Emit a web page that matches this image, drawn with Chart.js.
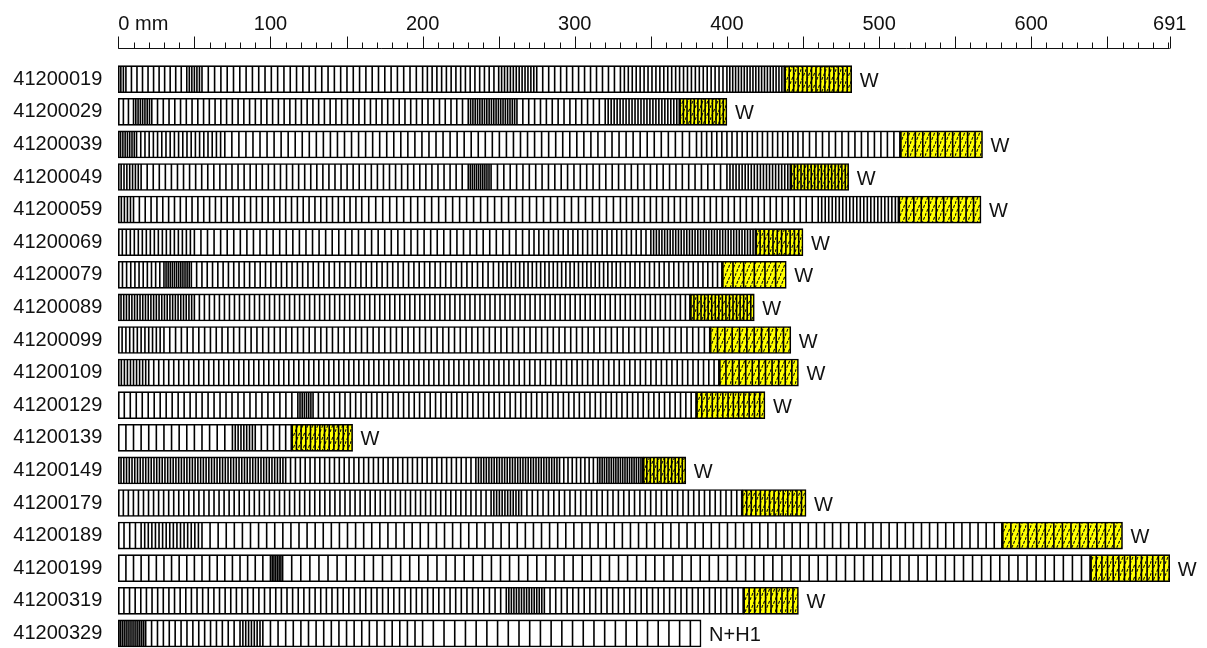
<!DOCTYPE html>
<html>
<head>
<meta charset="utf-8">
<script src="https://cdn.jsdelivr.net/npm/chart.js@4.4.1/dist/chart.umd.min.js"></script>
<style>
  body { margin: 0; background: #fff; }
</style>
</head>
<body>
<canvas id="coreChart" width="1207" height="648"></canvas>
<script>
// cores, lengths in mm
const coreIds = ['41200019', '41200029', '41200039', '41200049', '41200059', '41200069',
  '41200079', '41200089', '41200099', '41200109', '41200129', '41200139',
  '41200149', '41200179', '41200189', '41200199', '41200319', '41200329'];
const coreLengths = [482, 400, 568, 480, 567, 450, 439, 418, 442, 447, 425, 154, 373, 452, 660, 691, 447, 383];
// start of the yellow (hatched) part
const warmStart = [438, 369, 514, 442, 513, 419, 397, 376, 389, 395, 380, 114, 345, 410, 581, 639, 411, null];
const endLabels = ['W', 'W', 'W', 'W', 'W', 'W', 'W', 'W', 'W', 'W', 'W', 'W', 'W', 'W', 'W', 'W', 'W', 'N+H1'];

// layer zones per core: [zone end mm, mean layer thickness mm]
const layerZones = [
  [[5, 1.5], [45, 3.8], [55, 1.8], [200, 4.2], [250, 3.2], [275, 2.0], [330, 3.8], [400, 2.6], [438, 1.9], [482, 3.0]],
  [[10, 3.0], [22, 1.5], [230, 3.8], [262, 1.5], [320, 4.0], [369, 2.0], [400, 2.4]],
  [[12, 1.6], [70, 2.8], [380, 4.6], [450, 3.3], [514, 4.3], [568, 5.0]],
  [[15, 2.0], [230, 4.0], [245, 1.4], [400, 4.2], [442, 2.0], [480, 2.2]],
  [[10, 2.0], [160, 3.8], [330, 4.6], [460, 4.0], [513, 2.3], [567, 4.8]],
  [[50, 2.6], [270, 4.3], [350, 3.2], [419, 1.8], [450, 2.7]],
  [[30, 2.8], [48, 1.4], [250, 3.5], [330, 2.8], [397, 3.2], [439, 7]],
  [[50, 1.8], [376, 3.3], [418, 2.4]],
  [[30, 2.6], [389, 3.8], [442, 5.0]],
  [[20, 2.0], [260, 3.3], [395, 3.5], [447, 4.5]],
  [[118, 4.0], [128, 1.5], [380, 3.5], [425, 3.6]],
  [[75, 5.0], [90, 2.0], [114, 3.8], [154, 3.0]],
  [[110, 1.8], [235, 3.2], [290, 1.7], [315, 2.8], [345, 1.5], [373, 2.4]],
  [[245, 3.3], [265, 1.8], [410, 3.5], [452, 3.0]],
  [[15, 4.0], [55, 2.4], [581, 5.3], [660, 5.5]],
  [[100, 5.0], [108, 1.2], [639, 6.0], [691, 3.8]],
  [[255, 3.7], [280, 1.7], [411, 3.7], [447, 3.5]],
  [[18, 1.3], [80, 3.8], [95, 2.0], [200, 5.0], [383, 7.0]]
];

const xTicks = [0, 100, 200, 300, 400, 500, 600, 691];
const xTickLabels = ['0 mm', '100', '200', '300', '400', '500', '600', '691'];

// layer boundaries -> points
const layerPoints = [];
layerZones.forEach((zones, i) => {
  let start = 0;
  zones.forEach(([end, thick]) => {
    const n = Math.max(1, Math.round((end - start) / thick));
    for (let k = 1; k <= n; k++) {
      const x = start + (end - start) * k / n;
      if (x < coreLengths[i] - 0.5) layerPoints.push({ x: x, y: coreIds[i] });
    }
    start = end;
  });
});

// yellow hatch
function makeHatch() {
  const pc = document.createElement('canvas');
  pc.width = 5;
  pc.height = 12;
  const p = pc.getContext('2d');
  p.fillStyle = '#ffff00';
  p.fillRect(0, 0, 5, 12);
  p.strokeStyle = '#111';
  p.lineWidth = 1.1;
  p.setLineDash([3, 1.5]);
  p.beginPath();
  p.moveTo(0, 12);
  p.lineTo(5, 0);
  p.stroke();
  return p.createPattern(pc, 'repeat');
}

const FONT = "'Liberation Sans', Arial, sans-serif";

const topAxis = {
  id: 'topAxis',
  afterDraw(chart) {
    const ctx = chart.ctx;
    const x = chart.scales.x;
    const yLine = 48.5;
    ctx.save();
    ctx.strokeStyle = '#111';
    ctx.lineWidth = 1;
    ctx.beginPath();
    ctx.moveTo(x.getPixelForValue(0), yLine);
    ctx.lineTo(x.getPixelForValue(691), yLine);
    for (let v = 0; v <= 690; v += 10) {
      const px = Math.round(x.getPixelForValue(v)) + 0.5;
      const len = v % 50 === 0 ? 12 : 6;
      ctx.moveTo(px, yLine);
      ctx.lineTo(px, yLine - len);
    }
    const pEnd = Math.round(x.getPixelForValue(691)) + 0.5;
    ctx.moveTo(pEnd, yLine);
    ctx.lineTo(pEnd, yLine - 12);
    ctx.stroke();

    ctx.fillStyle = '#111';
    ctx.font = '20px ' + FONT;
    ctx.textBaseline = 'middle';
    xTicks.forEach((v, i) => {
      ctx.textAlign = i === 0 ? 'left' : 'center';
      ctx.fillText(xTickLabels[i], x.getPixelForValue(v), 24);
    });

    // end labels
    const y = chart.scales.y;
    ctx.textAlign = 'left';
    coreIds.forEach((id, i) => {
      ctx.fillText(endLabels[i], x.getPixelForValue(coreLengths[i]) + 8, y.getPixelForValue(i) + 2);
    });
    ctx.restore();
  }
};

new Chart(document.getElementById('coreChart'), {
  type: 'bar',
  data: {
    labels: coreIds,
    datasets: [
      {
        type: 'scatter',
        data: layerPoints,
        pointStyle: 'line',
        rotation: 90,
        pointRadius: 13,
        borderColor: '#000',
        borderWidth: 1.6,
        order: 0,
        clip: false
      },
      {
        data: coreIds.map((_, i) => warmStart[i] == null ? null : [warmStart[i], coreLengths[i]]),
        backgroundColor: makeHatch(),
        borderColor: '#000',
        borderWidth: 1.6,
        borderSkipped: false,
        grouped: false,
        barThickness: 27,
        order: 1,
        clip: false
      },
      {
        data: coreIds.map((_, i) => [0, warmStart[i] == null ? coreLengths[i] : warmStart[i]]),
        backgroundColor: '#ffffff',
        borderColor: '#000',
        borderWidth: 1.6,
        borderSkipped: false,
        grouped: false,
        barThickness: 27,
        order: 2,
        clip: false
      }
    ]
  },
  options: {
    indexAxis: 'y',
    responsive: false,
    animation: false,
    events: [],
    layout: { padding: { top: 79.2, bottom: 13.5, right: 37.3, left: 0 } },
    plugins: {
      legend: { display: false },
      tooltip: { enabled: false }
    },
    scales: {
      x: { type: 'linear', display: false, min: 0, max: 691 },
      y: {
        type: 'category',
        offset: false,
        grid: { display: false, drawTicks: false },
        border: { display: false },
        ticks: {
          color: '#111',
          padding: 16,
          font: { family: FONT, size: 20 }
        },
        afterFit(scale) {
          scale.width = 118.3;
          scale.paddingTop = 0;
          scale.paddingBottom = 0;
        }
      }
    }
  },
  plugins: [topAxis]
});
</script>
</body>
</html>
